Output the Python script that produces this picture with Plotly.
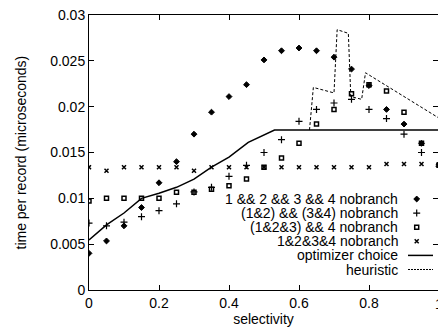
import plotly.graph_objects as go

# ---------------- data ----------------
selectivity = [0.00, 0.05, 0.10, 0.15, 0.20, 0.25, 0.30, 0.35, 0.40, 0.45, 0.50,
               0.55, 0.60, 0.65, 0.70, 0.75, 0.80, 0.85, 0.90, 0.95, 1.00]
and_1_2_3_4 = [0.0040, 0.00535, 0.0070, 0.0090, 0.0117, 0.0140, 0.0170, 0.0194, 0.0211, 0.0224, 0.0251,
               0.0261, 0.0264, 0.0261, 0.0254, 0.0241, 0.0223, 0.0197, 0.0181, 0.0160, 0.0137]
and_12_34 = [0.0073, 0.0070, 0.0074, 0.0080, 0.00865, 0.0094, 0.0107, 0.0112, 0.0124, 0.0136, 0.0150,
             0.0164, 0.0184, 0.0197, 0.0204, 0.0208, 0.0197, 0.0187, 0.0170, 0.0150, 0.0135]
and_123_4 = [0.0097, 0.0100, 0.0100, 0.0100, 0.0100, 0.01066, 0.01066, 0.0110, 0.01138, 0.0121, 0.0134,
             0.0144, 0.0160, 0.0181, 0.0197, 0.0214, 0.0224, 0.0217, 0.0194, 0.0160, 0.0136]
and_1234 = [0.0134, 0.0130, 0.0134, 0.0134, 0.0134, 0.0134, 0.0130, 0.0134, 0.0134, 0.0134, 0.0134,
            0.0134, 0.0134, 0.0134, 0.0134, 0.0134, 0.0134, 0.01375, 0.01375, 0.01375, 0.0137]
optimizer_x = [0.00, 0.05, 0.10, 0.15, 0.20, 0.25, 0.30, 0.35, 0.40, 0.455, 0.53, 1.00]
optimizer_y = [0.00545, 0.0071, 0.0084, 0.0100, 0.01055, 0.0112, 0.0121, 0.0134, 0.0145, 0.0161, 0.01745, 0.01745]
heuristic_x = [0.63, 0.641, 0.700, 0.709, 0.741, 0.748, 0.779, 0.790, 1.00]
heuristic_y = [0.01745, 0.0221, 0.0215, 0.0284, 0.0280, 0.0211, 0.0208, 0.0237, 0.01875]

legend_labels = ["1 && 2 && 3 && 4 nobranch", "(1&2) && (3&4) nobranch", "(1&2&3) && 4 nobranch",
                 "1&2&3&4 nobranch", "optimizer choice", "heuristic"]
y_tick_vals = [0, 0.005, 0.01, 0.015, 0.02, 0.025, 0.03]
y_tick_text = ["0", "0.005", "0.01", "0.015", "0.02", "0.025", "0.03"]
x_tick_vals = [0, 0.2, 0.4, 0.6, 0.8]
x_tick_text = ["0", "0.2", "0.4", "0.6", "0.8"]
x_title = "selectivity"
y_title = "time per record (microseconds)"

# ---------------- layout constants ----------------
W, H = 438, 327
L, T, B = 89, 15, 37
PW, PH = W - L, H - T - B          # plot area in pixels
X_SPAN_PX = 350                    # pixels from x=0 to x=1 (right frame falls just outside window)
FONT = dict(family="Liberation Sans, Arial, sans-serif", size=14, color="black")

styles = [
    dict(symbol="diamond", size=4.5, color="black", line=dict(width=1, color="black")),
    dict(symbol="cross-thin-open", size=5, color="black", line=dict(width=1.2, color="black")),
    dict(symbol="square-open", size=4, color="black", line=dict(width=1.5, color="black")),
    dict(symbol="x-thin-open", size=4, color="black", line=dict(width=1.5, color="black")),
]
series = [and_1_2_3_4, and_12_34, and_123_4, and_1234]

fig = go.Figure()
for vals, st in zip(series, styles):
    fig.add_trace(go.Scatter(x=selectivity, y=vals, mode="markers", marker=st,
                             showlegend=False, hoverinfo="skip"))
fig.add_trace(go.Scatter(x=optimizer_x, y=optimizer_y, mode="lines",
                         line=dict(color="black", width=1.5), showlegend=False, hoverinfo="skip"))
fig.add_trace(go.Scatter(x=heuristic_x, y=heuristic_y, mode="lines",
                         line=dict(color="black", width=1, dash="3px,2px"), showlegend=False,
                         hoverinfo="skip"))
# dummy trace to host the right-hand tick axis
fig.add_trace(go.Scatter(x=[None], y=[None], yaxis="y2", showlegend=False, hoverinfo="skip"))

# ---------------- hand-made legend (text left, key right) ----------------
LEG_TEXT_RIGHT = 400     # px
LEG_KEY_X = 416.7        # px
LEG_LINE = (408, 433)    # px
LEG_TOP = 199            # px, centre of first row
LEG_STEP = 14.1          # px
for i, lab in enumerate(legend_labels):
    yc = LEG_TOP + i * LEG_STEP
    fig.add_annotation(text=lab, xref="paper", yref="paper",
                       x=(LEG_TEXT_RIGHT - L) / PW, y=1 - (yc - T) / PH,
                       xanchor="right", yanchor="middle", showarrow=False, font=FONT)
    if i < 4:
        fig.add_trace(go.Scatter(x=[LEG_KEY_X - L], y=[yc - T], mode="markers", marker=styles[i],
                                 xaxis="x2", yaxis="y3", showlegend=False, hoverinfo="skip"))
    else:
        ln = dict(color="black", width=1.5) if i == 4 else dict(color="black", width=1, dash="2px,1px")
        fig.add_trace(go.Scatter(x=[LEG_LINE[0] - L, LEG_LINE[1] - L], y=[yc - T, yc - T], mode="lines",
                                 line=ln, xaxis="x2", yaxis="y3", showlegend=False, hoverinfo="skip"))

# tick label "1" that sits at the (cut-off) right frame
fig.add_annotation(text="1", xref="paper", yref="paper", x=(X_SPAN_PX) / PW, y=0,
                   xanchor="center", yanchor="top", yshift=-4, showarrow=False, font=FONT)
# y axis title
fig.add_annotation(text=y_title, xref="paper", yref="paper", x=(20 - L) / PW, y=0.5,
                   textangle=-90, xanchor="center", yanchor="middle", showarrow=False, font=FONT)

axis_common = dict(ticks="inside", ticklen=5, tickwidth=1, tickcolor="black",
                   showgrid=False, zeroline=False, linecolor="black", linewidth=1,
                   tickfont=FONT, automargin=False)
fig.update_layout(
    width=W, height=H,
    margin=dict(l=L, r=0, t=T, b=B, pad=0),
    paper_bgcolor="white", plot_bgcolor="white",
    font=FONT, hovermode=False,
    xaxis=dict(range=[0, PW / X_SPAN_PX], tickvals=x_tick_vals, ticktext=x_tick_text,
               showline=True, mirror="ticks",
               title=dict(text=x_title, font=FONT, standoff=2), **axis_common),
    yaxis=dict(range=[0, 0.03], tickvals=y_tick_vals, ticktext=y_tick_text,
               showline=True, **axis_common),
    yaxis2=dict(range=[0, 0.03], tickvals=y_tick_vals, overlaying="y", side="right", anchor="x",
                showline=False, showticklabels=False, ticks="inside", ticklen=5, tickwidth=1,
                tickcolor="black", showgrid=False, zeroline=False, automargin=False),
    xaxis2=dict(range=[0, PW], overlaying="x", visible=False, anchor="y3"),
    yaxis3=dict(range=[PH, 0], overlaying="y", visible=False, anchor="x2"),
)

fig.write_html("out.html", config={"displayModeBar": False, "staticPlot": True},
               post_script="document.body.style.margin='0';document.body.style.overflow='hidden';")
